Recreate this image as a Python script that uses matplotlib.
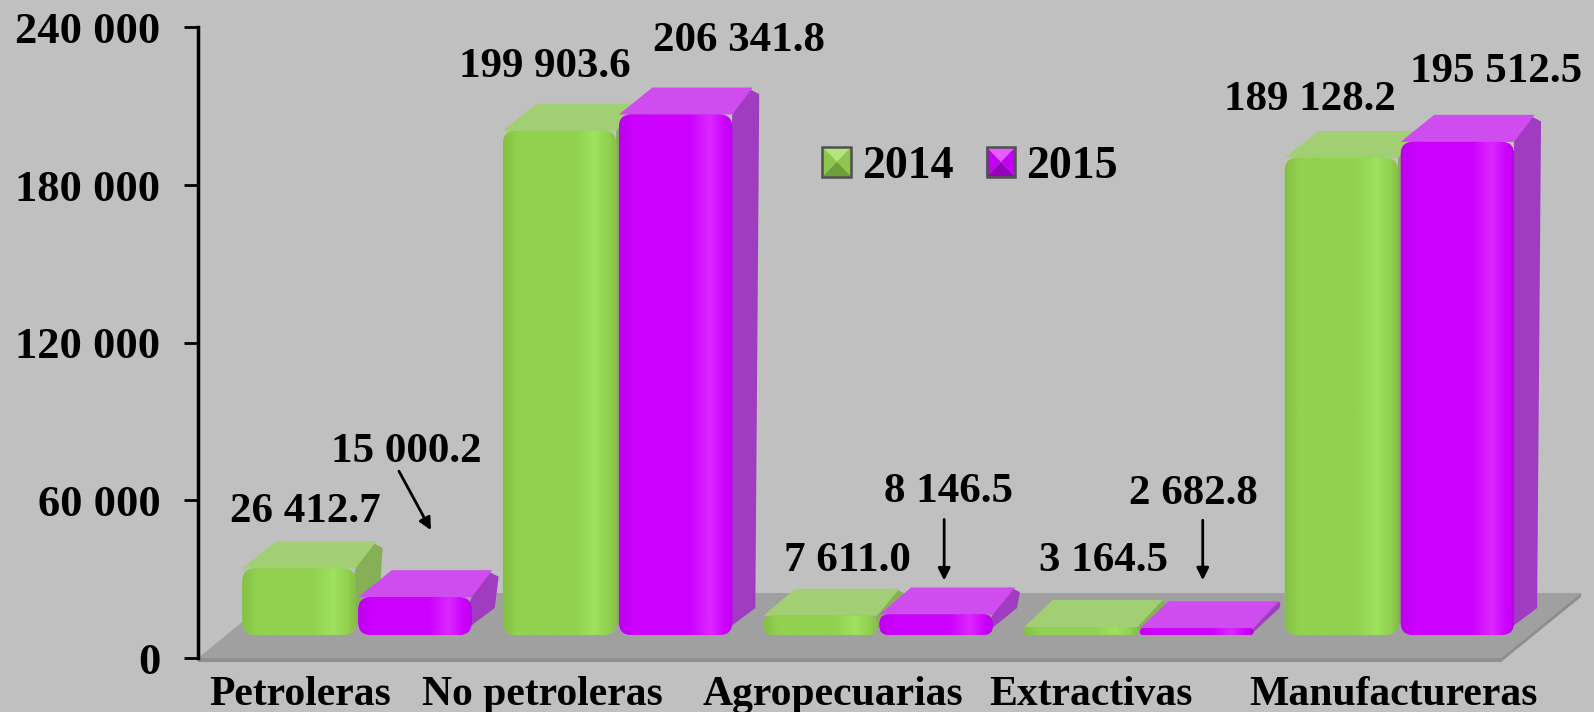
import matplotlib
matplotlib.use('Agg')
import matplotlib.pyplot as plt
import numpy as np
from matplotlib.patches import Polygon, FancyBboxPatch, Patch, Rectangle
from matplotlib.colors import LinearSegmentedColormap
from matplotlib.transforms import ScaledTranslation
from matplotlib.legend_handler import HandlerBase

# ---------------- data ----------------
categories = ['Petroleras', 'No petroleras', 'Agropecuarias', 'Extractivas', 'Manufactureras']
values_2014 = [26412.7, 199903.6, 7611.0, 3164.5, 189128.2]
values_2015 = [15000.2, 206341.8, 8146.5, 2682.8, 195512.5]
series_names = ['2014', '2015']
y_ticks = [0, 60000, 120000, 180000, 240000]

# ---------------- style ----------------
BG = '#C0C0C0'
FONT = 'Liberation Serif'
plt.rcParams['font.family'] = [FONT, 'DejaVu Serif']
plt.rcParams['font.weight'] = 'bold'

series_style = [
    dict(front='#92D050', dark='#84C044', light='#9EE25E', side='#85B056', top='#A2CF74',
         mk_top='#B4E47C', mk_side='#8CC64C', mk_bot='#6E9E3A'),
    dict(front='#CC00FF', dark='#BC00EC', light='#DC28FF', side='#A03CC0', top='#CF4CEE',
         mk_top='#E85CFF', mk_side='#C400F4', mk_bot='#9400BC'),
]

# label offsets in pixels (dx, dy up) relative to bar front-top centre
label_offsets = [
    [(6, 56), (-15, 64), (27, 55), (23, 66), (-31, 58)],
    [(-9, 145), (63, 74), (12, 122), (-3, 134), (39, 70)],
]
# arrows (start, end) offsets in pixels relative to bar front-top centre
arrow_offsets = {
    (1, 0): ((-16, 126), (16, 67)),
    (1, 2): ((8, 95), (8, 34)),
    (1, 3): ((6, 108), (6, 48)),
}
cat_label_nudge_px = [-28, -47, -17, -19, 23]

W, H = 1594, 712
fig = plt.figure(figsize=(W / 100, H / 100), dpi=100, facecolor=BG)
AX_L, AX_B, AX_T = 198, 658, 27.4
ax = fig.add_axes([AX_L / W, (H - AX_B) / H, (W - AX_L) / W, (AX_B - AX_T) / H])
ax.set_facecolor('none')
CAT_PX = 260.6
n = len(categories)
XLIM = (-0.5, -0.5 + (W - AX_L) / CAT_PX)
YLIM = (0, 240000)
ax.set_xlim(*XLIM)
ax.set_ylim(*YLIM)

inv = ax.transData.inverted()


def px(dx, dy):
    a = inv.transform((0, 0))
    b = inv.transform((dx, dy))
    return b[0] - a[0], b[1] - a[1]


# ---------------- floor ----------------
fdx, fdy = px(80, 65)
_, strip = px(0, 4)
x0f, x1f = -0.5, n - 0.5
ax.add_patch(Polygon([(x0f, 0), (x1f, 0), (x1f + fdx, fdy), (x0f + fdx, fdy)],
                     closed=True, fc='#A0A0A0', ec='none', zorder=1))
ax.add_patch(Polygon([(x0f, 0), (x1f, 0), (x1f, -strip), (x0f, -strip)],
                     closed=True, fc='#8E8E8E', ec='none', zorder=1, clip_on=False))
ax.add_patch(Polygon([(x1f, 0), (x1f + fdx, fdy), (x1f + fdx, fdy - strip), (x1f, -strip)],
                     closed=True, fc='#8E8E8E', ec='none', zorder=1, clip_on=False))

# ---------------- bars ----------------
BAR_W = 0.435
GAP = 0.01
SHIFT = 0.11
_, base = px(0, 23)
PERSP = 0.96
ddx, ddy = px(27, 27)
sx, sy = px(1, 1)
aspect = sy / sx

z = 2
anchors = {}
for i in range(n):
    for j, vals in enumerate([values_2014, values_2015]):
        st = series_style[j]
        v = vals[i]
        if j == 0:
            x0 = i + SHIFT - GAP / 2 - BAR_W
        else:
            x0 = i + SHIFT + GAP / 2
        x1 = x0 + BAR_W
        top = base + v * PERSP
        h = top - base
        h_px = h / sy
        r_px = min(13, h_px / 2 * 0.9)
        rx, ry = r_px * sx, r_px * sy
        # side face
        ax.add_patch(Polygon([(x1 - rx, base), (x1 + ddx - rx * 0.3, base + ddy), (x1 + ddx, top + ddy - ry * 0.5),
                              (x1 + ddx - rx, top + ddy), (x1, top)],
                             closed=True, fc=st['side'], ec='none', zorder=z))
        # top face
        ax.add_patch(Polygon([(x0, top), (x1, top), (x1 + ddx - rx * 0.5, top + ddy),
                              (x0 + ddx + rx * 0.5, top + ddy)],
                             closed=True, fc=st['top'], ec='none', zorder=z + 0.1))
        # front face (rounded)
        front = FancyBboxPatch((x0, base), BAR_W, h,
                               boxstyle=f"round,pad=0,rounding_size={rx}",
                               mutation_aspect=aspect, fc=st['front'], ec='none', zorder=z + 0.2)
        ax.add_patch(front)
        cmap = LinearSegmentedColormap.from_list(
            'g', [(0, st['dark']), (0.12, st['front']), (0.62, st['front']),
                  (0.8, st['light']), (0.93, st['front']), (1, st['dark'])])
        grad = np.linspace(0, 1, 256)[None, :]
        im = ax.imshow(grad, extent=(x0, x1, base, top), aspect='auto', cmap=cmap,
                       zorder=z + 0.3, interpolation='bilinear')
        im.set_clip_path(front)
        z += 1
        anchors[(j, i)] = ((x0 + x1) / 2, top)

ax.set_xlim(*XLIM)
ax.set_ylim(*YLIM)

# ---------------- value labels ----------------
for j, vals in enumerate([values_2014, values_2015]):
    for i, v in enumerate(vals):
        ax_, ay_ = anchors[(j, i)]
        ox, oy = label_offsets[j][i]
        txt = f"{v:,.1f}".replace(',', ' ')
        ax.annotate(txt, xy=(ax_, ay_), xytext=(ox, oy), textcoords='offset pixels',
                    ha='center', va='center', fontsize=31, fontweight='bold',
                    color='black', zorder=100, annotation_clip=False)
        if (j, i) in arrow_offsets:
            (s0, s1), (e0, e1) = arrow_offsets[(j, i)]
            exd, eyd = px(e0, e1)
            ax.annotate('', xy=(ax_ + exd, ay_ + eyd), xytext=(s0 - e0, s1 - e1),
                        textcoords='offset pixels', annotation_clip=False,
                        arrowprops=dict(arrowstyle='-|>', lw=2, color='black',
                                        mutation_scale=18, shrinkA=0, shrinkB=0),
                        zorder=100)

# ---------------- axes ----------------
for s in ['top', 'right', 'bottom']:
    ax.spines[s].set_visible(False)
ax.spines['left'].set_linewidth(2.5)
ax.spines['left'].set_color('black')
ax.spines['left'].set_zorder(50)
ax.set_yticks(y_ticks)
ax.set_yticklabels([f"{t:,}".replace(',', ' ') for t in y_ticks])
ax.tick_params(axis='y', length=10, width=2, pad=17, labelsize=32)
ax.set_xticks(range(n))
ax.set_xticklabels(categories)
ax.tick_params(axis='x', length=0, pad=13, labelsize=30)
for lab in ax.get_yticklabels() + ax.get_xticklabels():
    lab.set_fontweight('bold')
for lab, nd in zip(ax.get_xticklabels(), cat_label_nudge_px):
    lab.set_transform(lab.get_transform() + ScaledTranslation(nd / 100, 0, fig.dpi_scale_trans))


# ---------------- legend ----------------
class PyramidHandler(HandlerBase):
    def __init__(self, st):
        super().__init__()
        self.st = st

    def create_artists(self, legend, orig_handle, xdescent, ydescent, width, height, fontsize, trans):
        x0, y0 = -xdescent, -ydescent
        x1, y1 = x0 + width, y0 + height
        cx, cy = (x0 + x1) / 2, (y0 + y1) / 2
        st = self.st
        arts = [
            Polygon([(x0, y1), (x1, y1), (cx, cy)], closed=True, fc=st['mk_top'], ec='none'),
            Polygon([(x0, y0), (x0, y1), (cx, cy)], closed=True, fc=st['mk_side'], ec='none'),
            Polygon([(x1, y0), (x1, y1), (cx, cy)], closed=True, fc=st['mk_side'], ec='none'),
            Polygon([(x0, y0), (x1, y0), (cx, cy)], closed=True, fc=st['mk_bot'], ec='none'),
            Rectangle((x0, y0), width, height, fc='none', ec='#505050', lw=1.8),
        ]
        for a in arts:
            a.set_transform(trans)
        return arts


handles = [Patch(facecolor=series_style[k]['front'], label=series_names[k]) for k in range(2)]
fig.legend(handles=handles, loc='center', bbox_to_anchor=(970 / W, 1 - 167 / H),
           bbox_transform=fig.transFigure, frameon=False, ncol=2,
           prop=dict(family=FONT, weight='bold', size=33),
           handlelength=0.63, handleheight=0.62, handletextpad=0.23, columnspacing=0.72,
           handler_map={handles[0]: PyramidHandler(series_style[0]),
                        handles[1]: PyramidHandler(series_style[1])})

fig.savefig('out.png', dpi=100, facecolor=BG)
